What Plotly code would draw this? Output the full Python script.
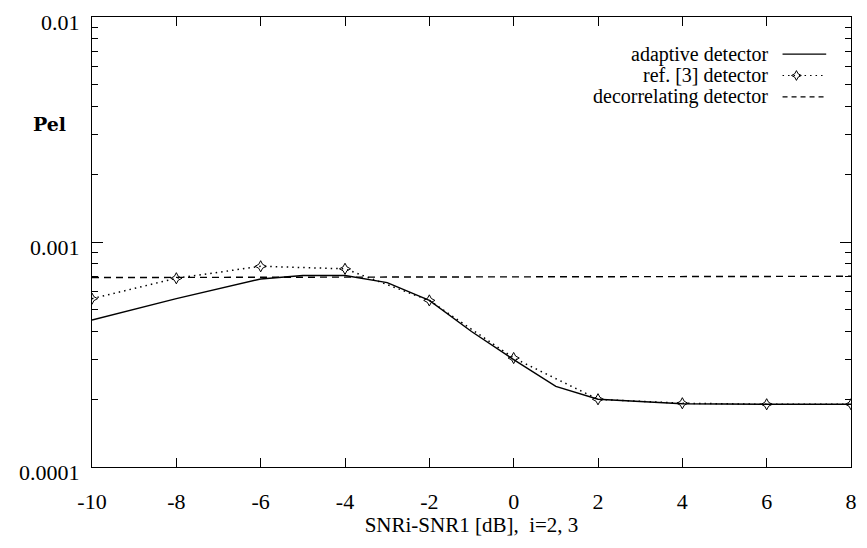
import plotly.graph_objects as go

# ---- data ----
x_adaptive = [-10, -8, -6, -5, -4, -3, -2, -1, 0, 1, 2, 4, 6, 8]
pe_adaptive = [0.00045, 0.00056, 0.000685, 0.00071, 0.00071, 0.00066, 0.00055,
               0.0004, 0.0003, 0.000228, 0.0002, 0.000191, 0.00019, 0.00019]

x_ref3 = [-10, -8, -6, -4, -2, 0, 2, 4, 6, 8]
pe_ref3 = [0.00056, 0.00069, 0.00078, 0.00076, 0.00055, 0.000305, 0.0002,
           0.000192, 0.00019, 0.00019]

x_decorr = [-10, -8, -6, -4, -2, 0, 2, 4, 6, 8]
pe_decorr = [0.000695, 0.000696, 0.000697, 0.000698, 0.000699, 0.0007,
             0.000701, 0.000702, 0.000703, 0.000704]

series_names = ["adaptive detector", "ref. [3] detector", "decorrelating detector"]

x_tickvals = [-10, -8, -6, -4, -2, 0, 2, 4, 6, 8]
x_ticktext = ["-10", "-8", "-6", "-4", "-2", "0", "2", "4", "6", "8"]
y_tickvals = [0.0001, 0.001, 0.01]
y_ticktext = ["0.0001", "0.001", "0.01"]
y_minorvals = [m * 1e-4 for m in range(2, 10)] + [m * 1e-3 for m in range(2, 10)]

FONT = "'Liberation Serif', 'Times New Roman', Times, 'DejaVu Serif', serif"
W, H = 867, 548
L, R, T, B = 92, 10, 13, 81

fig = go.Figure()

fig.add_trace(go.Scatter(x=x_adaptive, y=pe_adaptive, mode="lines",
                         line=dict(color="black", width=1.4), name=series_names[0],
                         showlegend=False))
fig.add_trace(go.Scatter(x=x_ref3, y=pe_ref3, mode="lines+markers",
                         line=dict(color="black", width=1.5, dash="1.5px,4px"),
                         marker=dict(symbol="star-diamond-open", size=8, color="black",
                                     line=dict(color="black", width=1)),
                         name=series_names[1], showlegend=False))
fig.add_trace(go.Scatter(x=x_decorr, y=pe_decorr, mode="lines",
                         line=dict(color="black", width=1.4, dash="7px,5px"),
                         name=series_names[2], showlegend=False))

# ---- hand-made legend (text left of line sample) on an overlay paper-like axis ----
pw = W - L - R
ph = H - T - B
def px2x(px):
    return (px - L) / pw
def py2y(py):
    return 1 - (py - T) / ph

row_y = [50.5, 72, 93.5]
sample_x0, sample_x1 = 788, 832
dashes = ["solid", "1.5px,4px", "5px,4px"]
for i, name in enumerate(series_names):
    yy = py2y(row_y[i])
    fig.add_trace(go.Scatter(x=[px2x(sample_x0), px2x(sample_x1)], y=[yy, yy],
                             mode="lines", xaxis="x2", yaxis="y2",
                             line=dict(color="black", width=1.2, dash=dashes[i]),
                             showlegend=False, hoverinfo="skip"))
    fig.add_annotation(x=px2x(774), y=yy, xref="paper", yref="paper",
                       text=name, showarrow=False, xanchor="right", yanchor="middle",
                       borderpad=0,
                       font=dict(family=FONT, size=20, color="black"))
fig.add_trace(go.Scatter(x=[px2x((sample_x0 + sample_x1) / 2 - 8)], y=[py2y(row_y[1])],
                         mode="markers", xaxis="x2", yaxis="y2",
                         marker=dict(symbol="star-diamond-open", size=7, color="black",
                                     line=dict(color="black", width=1)),
                         showlegend=False, hoverinfo="skip"))

# y label
fig.add_annotation(x=0, y=py2y(121), xref="paper", yref="paper", text="<b>Pel</b>",
                   showarrow=False, xanchor="right", yanchor="middle", xshift=-24,
                   font=dict(family="'DejaVu Serif', serif", size=19, color="black"))

axis_common = dict(showline=True, linecolor="black", linewidth=1.2, mirror="ticks",
                   ticks="inside", tickcolor="black", tickwidth=1, showgrid=False,
                   zeroline=False, tickfont=dict(family=FONT, size=22, color="black"),
                   ticklabeloverflow="allow")

fig.update_layout(
    width=W, height=H,
    margin=dict(l=L, r=R, t=T, b=B),
    plot_bgcolor="white", paper_bgcolor="white",
    font=dict(family=FONT, color="black"),
    xaxis=dict(range=[-10, 8], tickvals=x_tickvals, ticktext=x_ticktext, ticklen=9,
               ticklabelstandoff=14,
               title=dict(text="SNRi-SNR1 [dB],  i=2, 3",
                          font=dict(family=FONT, size=21, color="black"), standoff=4),
               **axis_common),
    yaxis=dict(type="log", range=[-4, -2], tickvals=y_tickvals, ticktext=y_ticktext,
               ticklen=11, ticklabelstandoff=7, ticklabelshift=5,
               minor=dict(ticks="inside", ticklen=6, tickvals=y_minorvals,
                          tickcolor="black", showgrid=False),
               **axis_common),
    xaxis2=dict(range=[0, 1], overlaying="x", visible=False, fixedrange=True),
    yaxis2=dict(range=[0, 1], overlaying="y", visible=False, fixedrange=True),
    showlegend=False,
)

fig.write_html("out.html")
